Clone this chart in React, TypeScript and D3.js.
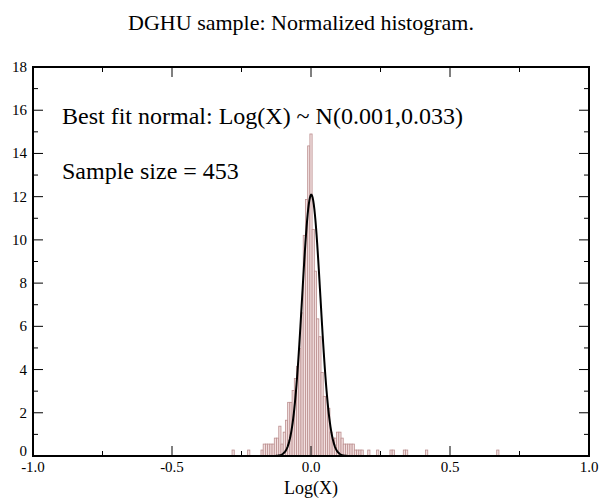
import React from "react";
import * as d3 from "d3";

const TITLE = "DGHU sample: Normalized histogram.";
const X_LABEL = "Log(X)";
const FIT_TEXT = "Best fit normal: Log(X) ~ N(0.001,0.033)";
const SIZE_TEXT = "Sample size = 453";

const SAMPLE_SIZE = 453;
const BIN_WIDTH = 0.008;
const FIT_MEAN = 0.001;
const FIT_SD = 0.033;

// bin centres (Log(X)) and counts
const binCenters = [
  -0.28, -0.224, -0.176, -0.168, -0.16, -0.152, -0.144, -0.136, -0.128, -0.12,
  -0.112, -0.104, -0.096, -0.088, -0.08, -0.072, -0.064, -0.056, -0.048, -0.04,
  -0.032, -0.024, -0.016, -0.008, 0, 0.008, 0.016, 0.024, 0.032, 0.04,
  0.048, 0.056, 0.064, 0.072, 0.08, 0.088, 0.096, 0.104, 0.112, 0.12,
  0.128, 0.136, 0.144, 0.152, 0.16, 0.168, 0.176, 0.184, 0.208, 0.24,
  0.288, 0.296, 0.336, 0.344, 0.416, 0.672,
];
const binCounts = [
  1, 1, 1, 2, 2, 2, 2, 2, 3, 3,
  5, 2, 4, 6, 9, 9, 11, 13, 15, 18,
  24, 37, 43, 52, 54, 38, 31, 23, 20, 14,
  10, 10, 8, 4, 3, 3, 4, 4, 3, 2,
  2, 2, 2, 2, 1, 1, 1, 1, 1, 1,
  1, 1, 1, 1, 1, 1,
];

const xTicks = [-1.0, -0.5, 0.0, 0.5, 1.0];
const xMinorTicks = [-0.75, -0.25, 0.25, 0.75];
const yTicks = [0, 2, 4, 6, 8, 10, 12, 14, 16, 18];
const yMinorTicks = [1, 3, 5, 7, 9, 11, 13, 15, 17];

const W = 602;
const H = 500;
const L = 33;
const R = 589;
const T = 67;
const B = 456;
const FONT = "'Liberation Serif', 'Times New Roman', serif";

export default function App() {
  const x = d3.scaleLinear().domain([-1, 1]).range([L, R]);
  const y = d3.scaleLinear().domain([0, 18]).range([B, T]);

  const pdf = (v: number) =>
    Math.exp(-((v - FIT_MEAN) ** 2) / (2 * FIT_SD * FIT_SD)) /
    (FIT_SD * Math.sqrt(2 * Math.PI));
  const curvePts = d3.range(-1, 1.00001, 0.002).map((v) => [v, pdf(v)] as [number, number]);
  const line = d3
    .line<[number, number]>()
    .x((d) => x(d[0]))
    .y((d) => y(d[1]));

  const bars = binCenters.map((c, i) => ({
    x0: c - BIN_WIDTH / 2,
    x1: c + BIN_WIDTH / 2,
    v: binCounts[i] / (SAMPLE_SIZE * BIN_WIDTH),
  }));

  const fmtX = (v: number) => v.toFixed(1);

  return (
    <svg
      width={W}
      height={H}
      style={{ position: "absolute", left: 0, top: 0, background: "#fff" }}
      fontFamily={FONT}
    >
      <rect x={0} y={0} width={W} height={H} fill="#fff" />
      <text x={301} y={30} textAnchor="middle" fontSize={22}>
        {TITLE}
      </text>

      {bars.map((b, i) => (
        <rect
          key={i}
          x={x(b.x0)}
          y={y(b.v)}
          width={x(b.x1) - x(b.x0)}
          height={y(0) - y(b.v)}
          fill="#f2e0e0"
          stroke="#bc8f8f"
          strokeWidth={0.8}
        />
      ))}

      <path d={line(curvePts) || ""} fill="none" stroke="#000" strokeWidth={2} />

      {/* frame */}
      <rect x={L} y={T} width={R - L} height={B - T} fill="none" stroke="#000" strokeWidth={2} />

      {/* x ticks */}
      {xTicks.map((t) => (
        <g key={"xt" + t}>
          <line x1={x(t)} x2={x(t)} y1={B} y2={B - 10} stroke="#000" strokeWidth={1} />
          <line x1={x(t)} x2={x(t)} y1={T} y2={T + 10} stroke="#000" strokeWidth={1} />
          <text x={x(t)} y={472} textAnchor="middle" fontSize={15}>
            {fmtX(t)}
          </text>
        </g>
      ))}
      {xMinorTicks.map((t) => (
        <g key={"xm" + t}>
          <line x1={x(t)} x2={x(t)} y1={B} y2={B - 5} stroke="#000" strokeWidth={1} />
          <line x1={x(t)} x2={x(t)} y1={T} y2={T + 5} stroke="#000" strokeWidth={1} />
        </g>
      ))}

      {/* y ticks */}
      {yTicks.map((t) => (
        <g key={"yt" + t}>
          <line x1={L} x2={L + 10} y1={y(t)} y2={y(t)} stroke="#000" strokeWidth={1} />
          <line x1={R} x2={R - 10} y1={y(t)} y2={y(t)} stroke="#000" strokeWidth={1} />
          <text x={27} y={y(t) + (t === 0 ? 0 : 5)} textAnchor="end" fontSize={15}>
            {t}
          </text>
        </g>
      ))}
      {yMinorTicks.map((t) => (
        <g key={"ym" + t}>
          <line x1={L} x2={L + 5} y1={y(t)} y2={y(t)} stroke="#000" strokeWidth={1} />
          <line x1={R} x2={R - 5} y1={y(t)} y2={y(t)} stroke="#000" strokeWidth={1} />
        </g>
      ))}

      <text x={(L + R) / 2} y={494} textAnchor="middle" fontSize={18}>
        {X_LABEL}
      </text>

      <text x={62} y={124} fontSize={24}>
        {FIT_TEXT}
      </text>
      <text x={62} y={179} fontSize={24}>
        {SIZE_TEXT}
      </text>
    </svg>
  );
}
